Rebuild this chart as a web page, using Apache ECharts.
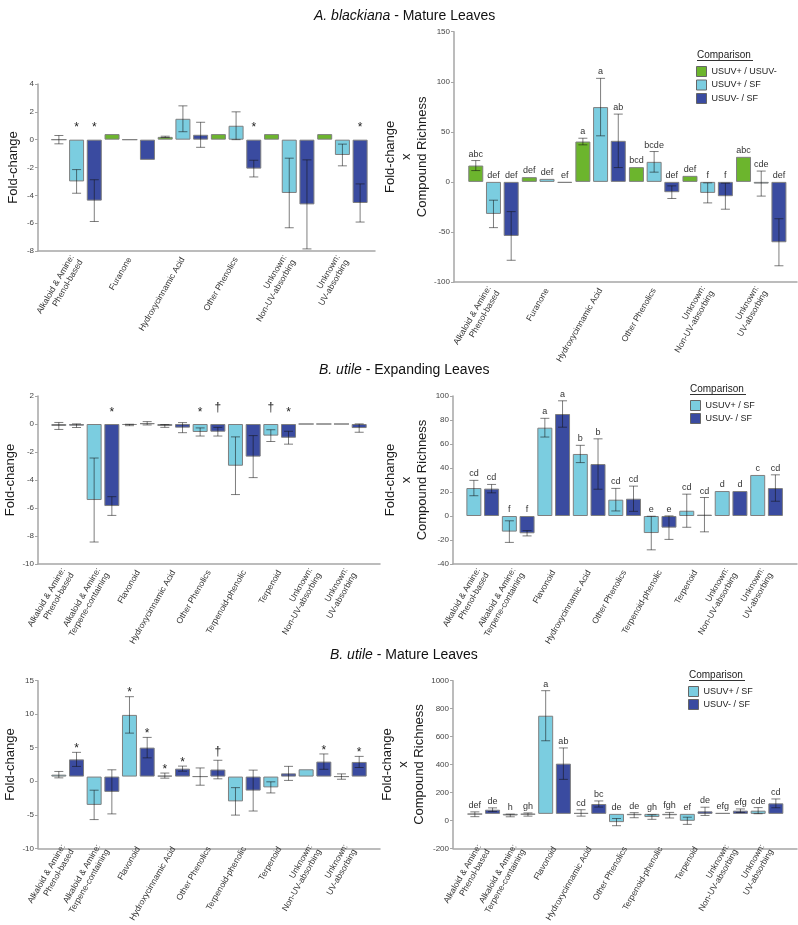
<!DOCTYPE html>
<html><head><meta charset="utf-8">
<script src="https://cdn.jsdelivr.net/npm/echarts@6/dist/echarts.min.js"></script>
<style>html,body{margin:0;padding:0;background:#fff}#c{width:798px;height:925px}</style>
</head><body><div id="c"></div>
<script>
// ---------- categories ----------
const abCats = ["Alkaloid & Amine:\nPhenol-based", "Furanone", "Hydroxycinnamic Acid", "Other Phenolics", "Unknown:\nNon-UV-absorbing", "Unknown:\nUV-absorbing"];
const buCats = ["Alkaloid & Amine:\nPhenol-based", "Alkaloid & Amine:\nTerpene-containing", "Flavonoid", "Hydroxycinnamic Acid", "Other Phenolics", "Terpenoid-phenolic", "Terpenoid", "Unknown:\nNon-UV-absorbing", "Unknown:\nUV-absorbing"];
const seriesNames = ["USUV+ / USUV-", "USUV+ / SF", "USUV- / SF"];

// ---------- A. blackiana, mature leaves: fold-change ----------
const abFcGreen    = [0, 0.4, 0.2, 0.4, 0.4, 0.4];
const abFcGreenErr = [0.3, 0, 0.05, 0, 0, 0];
const abFcLb       = [-3.0, 0, 1.5, 1.0, -3.83, -1.1];
const abFcLbErr    = [0.85, 0, 0.93, 1.0, 2.5, 0.78];
const abFcLbSig    = ["*", "", "", "", "", ""];
const abFcDb       = [-4.38, -1.45, 0.35, -2.08, -4.65, -4.55];
const abFcDbErr    = [1.5, 0, 0.9, 0.6, 3.2, 1.37];
const abFcDbSig    = ["*", "", "", "*", "", "*"];

// ---------- A. blackiana, mature leaves: fold-change x compound richness ----------
const abCrGreen    = [16.3, 4.7, 40.3, 14.7, 6, 25];
const abCrGreenErr = [5, 0, 3.3, 0, 0, 0];
const abCrGreenLet = ["abc", "def", "a", "bcd", "def", "abc"];
const abCrLb       = [-32, 3, 74.7, 20, -11, -1.7];
const abCrLbErr    = [13.7, 0, 28.7, 10.3, 10, 12.5];
const abCrLbLet    = ["def", "def", "a", "bcde", "f", "cde"];
const abCrDb       = [-54, -1, 41, -10.3, -14.3, -60.3];
const abCrDbErr    = [24.3, 0, 26.7, 6.3, 13, 23.5];
const abCrDbLet    = ["def", "ef", "ab", "def", "f", "def"];

// ---------- B. utile, expanding leaves: fold-change ----------
const buExpFcLb    = [-0.14, -5.43, -0.07, -0.14, -0.57, -2.98, -0.83, 0, 0];
const buExpFcLbErr = [0.25, 3.0, 0.05, 0.1, 0.29, 2.06, 0.42, 0, 0];
const buExpFcLbSig = ["", "", "", "", "*", "", "†", "", ""];
const buExpFcDb    = [-0.12, -5.86, 0.05, -0.26, -0.55, -2.33, -0.98, 0, -0.29];
const buExpFcDbErr = [0.13, 0.67, 0.12, 0.36, 0.31, 1.5, 0.46, 0, 0.3];
const buExpFcDbSig = ["", "*", "", "", "†", "", "*", "", ""];

// ---------- B. utile, expanding leaves: fold-change x compound richness ----------
const buExpCrLb    = [23.3, -13, 73.6, 51.7, 13.6, -14.2, 4.4, 20.8, 34.2];
const buExpCrLbErr = [6.4, 9, 7.8, 7.2, 9.4, 14, 13.8, 0, 0];
const buExpCrLbLet = ["cd", "f", "a", "b", "cd", "e", "cd", "d", "c"];
const buExpCrDb    = [22.8, -14.4, 85, 43.3, 14.4, -9.7, 1.1, 20.8, 23.3];
const buExpCrDbErr = [3.5, 2.2, 11, 21, 10.5, 9.8, 14.3, 0, 11];
const buExpCrDbLet = ["cd", "f", "a", "b", "cd", "e", "cd", "d", "cd"];

// ---------- B. utile, mature leaves: fold-change ----------
const buMatFcLb    = [0.3, -4.43, 9.65, 0.15, 0, -3.88, -1.69, 1.14, 0];
const buMatFcLbErr = [0.5, 2.3, 2.85, 0.4, 1.35, 2.15, 0.87, 0, 0.42];
const buMatFcLbSig = ["", "", "*", "*", "", "", "", "", ""];
const buMatFcDb    = [2.69, -2.39, 4.53, 1.24, 1.1, -2.19, 0.5, 2.34, 2.29];
const buMatFcDbErr = [1.1, 3.45, 1.6, 0.4, 1.45, 3.2, 1.1, 1.2, 0.87];
const buMatFcDbSig = ["*", "", "*", "*", "†", "", "", "*", "*"];

// ---------- B. utile, mature leaves: fold-change x compound richness ----------
const buMatCrLb    = [-3, -12, 737, 7, -62, -24, -52, 7, 24];
const buMatCrLbErr = [18, 10, 188, 24, 27, 17, 27, 0, 23];
const buMatCrLbLet = ["def", "h", "a", "cd", "de", "gh", "ef", "efg", "cde"];
const buMatCrDb    = [31, -5, 377, 74, -10, -10, 19, 24, 79];
const buMatCrDbErr = [14, 12, 118, 23, 19, 21, 31, 13, 33];
const buMatCrDbLet = ["de", "gh", "ab", "bc", "de", "fgh", "de", "efg", "cd"];

// ---------- drawing ----------
const FONT = '"Liberation Sans", Arial, Helvetica, sans-serif';
const GREEN = '#6cb52d', LB = '#7bcde0', DB = '#3a4ba0';
const AXC = '#a6a6a6';
const BARW = 15, GAPF = 0.18;

const option = {animation:false, backgroundColor:'#fff', grid:[], xAxis:[], yAxis:[], series:[], title:[], legend:[], graphic:[]};

function addPanel(p) {
  const gi = option.grid.length;
  option.grid.push({left:p.frame[0], top:p.top, width:p.frame[1]-p.frame[0], height:p.height});
  option.grid.push({left:p.left, top:p.top, width:p.width, height:p.height});
  const xi = option.xAxis.length;
  option.xAxis.push({type:'value', gridIndex:gi, min:0, max:1,
    axisLine:{show:true, onZero:false, lineStyle:{color:AXC, width:1.5}},
    axisTick:{show:false}, axisLabel:{show:false}, splitLine:{show:false}});
  option.xAxis.push({type:'category', gridIndex:gi+1, data:p.cats,
    axisLine:{show:false}, axisTick:{show:false}, splitLine:{show:false},
    axisLabel:{interval:0, rotate:60, fontSize:8.5, lineHeight:10, color:'#333', margin:7, fontFamily:FONT}});
  const yi = option.yAxis.length;
  option.yAxis.push({type:'value', gridIndex:gi, min:p.ymin, max:p.ymax, interval:p.yint,
    axisLine:{show:true, lineStyle:{color:AXC, width:1.5}},
    axisTick:{show:true, length:3, lineStyle:{color:AXC}},
    axisLabel:{fontSize:8, color:'#444', margin:4, fontFamily:FONT, formatter:v => String(v)},
    splitLine:{show:false},
    name:p.yname, nameLocation:'middle', nameGap:p.nameGap,
    nameTextStyle:{fontSize:13, lineHeight:16, color:'#1a1a1a', fontFamily:FONT}});
  option.yAxis.push({type:'value', gridIndex:gi+1, min:p.ymin, max:p.ymax, interval:p.yint, show:false});
  const n = p.series.length;
  p.series.forEach((s, k) => {
    option.series.push({type:'bar', name:s.name, xAxisIndex:xi+1, yAxisIndex:yi+1, data:s.values,
      barWidth:BARW, barGap:(GAPF*100)+'%', silent:true,
      itemStyle:{color:s.color, borderColor:'#7f7f7f', borderWidth:1}});
    const labs = s.labels || [];
    option.series.push({type:'custom', name:s.name+'#err', xAxisIndex:xi+1, yAxisIndex:yi+1, silent:true, z:5,
      data:s.values.map((v, i) => [i, v, s.errs[i]]),
      renderItem:(params, api) => {
        const i = api.value(0), v = api.value(1), e = api.value(2);
        const off = (k - (n - 1) / 2) * BARW * (1 + GAPF);
        const x = api.coord([i, v])[0] + off;
        const ch = [];
        const st = {stroke:'rgba(20,20,20,0.55)', lineWidth:1};
        if (e > 0) {
          const yt = api.coord([i, v + e])[1], yb = api.coord([i, v - e])[1];
          ch.push({type:'line', shape:{x1:x, y1:yt, x2:x, y2:yb}, style:st});
          ch.push({type:'line', shape:{x1:x-4.5, y1:yt, x2:x+4.5, y2:yt}, style:st});
          ch.push({type:'line', shape:{x1:x-4.5, y1:yb, x2:x+4.5, y2:yb}, style:st});
        }
        const lab = labs[params.dataIndex];
        if (lab) {
          const top = v + e;
          const yb = api.coord([i, Math.max(0, top)])[1];
          if (p.kind === 'letter') {
            ch.push({type:'text', style:{text:lab, x:x, y:yb-2, align:'center', verticalAlign:'bottom',
              fontSize:9, fontFamily:FONT, fill:'#333'}});
          } else {
            let y = top > 0 ? yb - 3.5 : yb - 11.5;
            if (lab === '†') y -= 5;
            ch.push({type:'text', style:{text:lab, x:x, y:y, align:'center', verticalAlign:'middle',
              fontSize:12, fontFamily:FONT, fill:'#222'}});
          }
        }
        return {type:'group', children:ch};
      }});
  });
}

const YN1 = 'Fold-change';
const YN2 = 'Fold-change\nx\nCompound Richness';

addPanel({cats:abCats, frame:[38,375], left:50, width:319, top:84, height:167,
  ymin:-8, ymax:4, yint:2, yname:YN1, nameGap:17, kind:'star',
  series:[
    {name:seriesNames[0], color:GREEN, values:abFcGreen, errs:abFcGreenErr},
    {name:seriesNames[1], color:LB, values:abFcLb, errs:abFcLbErr, labels:abFcLbSig},
    {name:seriesNames[2], color:DB, values:abFcDb, errs:abFcDbErr, labels:abFcDbSig}]});
addPanel({cats:abCats, frame:[454,797], left:466.7, width:321.3, top:31.7, height:250.3,
  ymin:-100, ymax:150, yint:50, yname:YN2, nameGap:23, kind:'letter',
  series:[
    {name:seriesNames[0], color:GREEN, values:abCrGreen, errs:abCrGreenErr, labels:abCrGreenLet},
    {name:seriesNames[1], color:LB, values:abCrLb, errs:abCrLbErr, labels:abCrLbLet},
    {name:seriesNames[2], color:DB, values:abCrDb, errs:abCrDbErr, labels:abCrDbLet}]});
addPanel({cats:buCats, frame:[38,380], left:50, width:318, top:396, height:168,
  ymin:-10, ymax:2, yint:2, yname:YN1, nameGap:17, kind:'star',
  series:[
    {name:seriesNames[1], color:LB, values:buExpFcLb, errs:buExpFcLbErr, labels:buExpFcLbSig},
    {name:seriesNames[2], color:DB, values:buExpFcDb, errs:buExpFcDbErr, labels:buExpFcDbSig}]});
addPanel({cats:buCats, frame:[453,797], left:465, width:319.3, top:396, height:168,
  ymin:-40, ymax:100, yint:20, yname:YN2, nameGap:23, kind:'letter',
  series:[
    {name:seriesNames[1], color:LB, values:buExpCrLb, errs:buExpCrLbErr, labels:buExpCrLbLet},
    {name:seriesNames[2], color:DB, values:buExpCrDb, errs:buExpCrDbErr, labels:buExpCrDbLet}]});
addPanel({cats:buCats, frame:[38,380], left:50, width:318, top:680.7, height:167.6,
  ymin:-10, ymax:15, yint:5, yname:YN1, nameGap:17, kind:'star',
  series:[
    {name:seriesNames[1], color:LB, values:buMatFcLb, errs:buMatFcLbErr, labels:buMatFcLbSig},
    {name:seriesNames[2], color:DB, values:buMatFcDb, errs:buMatFcDbErr, labels:buMatFcDbSig}]});
addPanel({cats:buCats, frame:[453,797], left:466, width:318.7, top:680.7, height:167.6,
  ymin:-200, ymax:1000, yint:200, yname:YN2, nameGap:23, kind:'letter',
  series:[
    {name:seriesNames[1], color:LB, values:buMatCrLb, errs:buMatCrLbErr, labels:buMatCrLbLet},
    {name:seriesNames[2], color:DB, values:buMatCrDb, errs:buMatCrDbErr, labels:buMatCrDbLet}]});

// titles
const titleRich = {
  i:{fontStyle:'italic', fontWeight:'normal', fontSize:14, fontFamily:FONT, color:'#111'},
  n:{fontWeight:'normal', fontSize:14, fontFamily:FONT, color:'#111'}};
[['A. blackiana', ' - Mature Leaves', 314, 9], ['B. utile', ' - Expanding Leaves', 319, 363], ['B. utile', ' - Mature Leaves', 330, 648]]
  .forEach(t => option.title.push({text:'{i|' + t[0] + '}{n|' + t[1] + '}', left:t[2], top:t[3], padding:0,
    textStyle:{fontWeight:'normal', rich:titleRich}}));

// legends
function addLegend(names, lx, ly, gap, hx, hy, hw) {
  option.legend.push({data:names, left:lx, top:ly, orient:'vertical', itemWidth:10, itemHeight:10, itemGap:gap, padding:0,
    icon:'rect', selectedMode:false, textStyle:{fontSize:9, color:'#222', fontFamily:FONT},
    itemStyle:{borderColor:'#666', borderWidth:1}});
  option.graphic.push({type:'text', x:hx, y:hy, style:{text:'Comparison', fontSize:10, fontFamily:FONT, fill:'#222', verticalAlign:'top'}});
  option.graphic.push({type:'line', shape:{x1:hx, y1:hy+10.5, x2:hx+hw, y2:hy+10.5}, style:{stroke:'#333', lineWidth:1}});
}
addLegend(seriesNames, 696, 66, 2.5, 697, 50, 56);
addLegend(seriesNames.slice(1), 690, 400, 2, 690, 384, 56);
addLegend(seriesNames.slice(1), 688, 686, 2, 689, 670, 56);

const chart = echarts.init(document.getElementById('c'), null, {renderer:'canvas'});
chart.setOption(option);
</script>
</body></html>
